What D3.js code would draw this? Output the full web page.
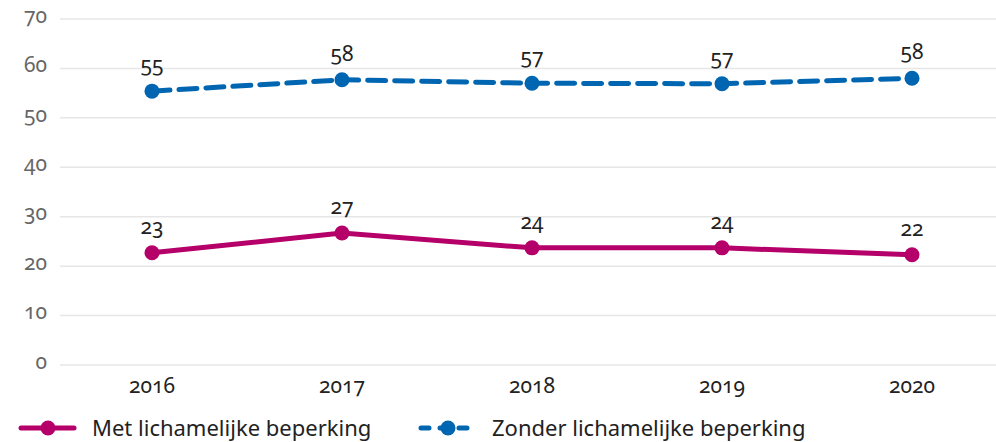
<!DOCTYPE html>
<html lang="nl">
<head>
<meta charset="UTF-8">
<script src="https://d3js.org/d3.v7.min.js"></script>
<style>
  body { margin: 0; background: #fff; }
  svg, svg text { font-family: "Noto Sans", "Open Sans", sans-serif; }
  .grid line { stroke: #e6e6e6; stroke-width: 1.5; }
  .yaxis text, .xaxis text, .lbl { font-variant-numeric: oldstyle-nums; font-feature-settings: "onum" 1; }
  .yaxis text { fill: #666; font-size: 21px; }
  .xaxis text { fill: #222; font-size: 21px; }
  .lbl { fill: #222; font-size: 21px; }
  .legend text { fill: #222; font-size: 22px; }
</style>
</head>
<body>
<div id="chart"></div>
<script>
// data
var years = ['2016', '2017', '2018', '2019', '2020'];
var metValues = [22.7, 26.7, 23.7, 23.7, 22.3];
var zonderValues = [55.4, 57.7, 57.0, 56.9, 58.0];
var metLabels = [23, 27, 24, 24, 22];
var zonderLabels = [55, 58, 57, 57, 58];
var yTicks = [0, 10, 20, 30, 40, 50, 60, 70];
var seriesNames = ['Met lichamelijke beperking', 'Zonder lichamelijke beperking'];

var width = 996, height = 442;
var magenta = '#b5006a', blue = '#0066b1';

var svg = d3.select('#chart').append('svg')
    .attr('width', width)
    .attr('height', height);

var x = d3.scaleBand().domain(years).range([57, 1007]);
var y = d3.scaleLinear().domain([0, 70]).range([365, 19]);

// gridlines
svg.append('g').attr('class', 'grid')
    .selectAll('line')
    .data(yTicks)
    .enter().append('line')
        .attr('x1', 60).attr('x2', 996)
        .attr('y1', function(d) { return y(d); })
        .attr('y2', function(d) { return y(d); });

// y axis labels
svg.append('g').attr('class', 'yaxis')
    .attr('transform', 'translate(47,0)')
    .call(d3.axisLeft(y).tickValues(yTicks).tickSize(0).tickPadding(0))
    .call(function(g) { g.select('.domain').remove(); })
    .selectAll('text').attr('dy', '0.15em');

// x axis labels
svg.append('g').attr('class', 'xaxis')
    .attr('transform', 'translate(0,376)')
    .call(d3.axisBottom(x).tickSize(0).tickPadding(0))
    .call(function(g) { g.select('.domain').remove(); })
    .selectAll('text').attr('dy', '0.8em');

var cx = function(i) { return x(years[i]) + x.bandwidth() / 2; };

function drawSeries(values, labels, color, dashed) {
    var line = d3.line()
        .x(function(d, i) { return cx(i); })
        .y(function(d) { return y(d); });
    svg.append('path')
        .datum(values)
        .attr('d', line)
        .attr('fill', 'none')
        .attr('stroke', color)
        .attr('stroke-width', 5)
        .attr('stroke-linecap', 'round')
        .attr('stroke-dasharray', dashed ? '18,9' : null);
    svg.append('g').selectAll('circle')
        .data(values)
        .enter().append('circle')
            .attr('cx', function(d, i) { return cx(i); })
            .attr('cy', function(d) { return y(d); })
            .attr('r', 7.5)
            .attr('fill', color);
    svg.append('g').selectAll('text')
        .data(values)
        .enter().append('text')
            .attr('class', 'lbl')
            .attr('text-anchor', 'middle')
            .attr('x', function(d, i) { return cx(i); })
            .attr('y', function(d) { return y(d) - 19; })
            .text(function(d, i) { return labels[i]; });
}

drawSeries(metValues, metLabels, magenta, false);
drawSeries(zonderValues, zonderLabels, blue, true);

// legend
var legendItems = [
    { name: seriesNames[0], color: magenta, dashed: false, x: 18 },
    { name: seriesNames[1], color: blue, dashed: true, x: 418 }
];
var legend = svg.selectAll('.legend')
    .data(legendItems)
    .enter().append('g')
        .attr('class', 'legend')
        .attr('transform', function(d) { return 'translate(' + d.x + ',428)'; });

legend.append('line')
    .attr('x1', 3).attr('x2', 56)
    .attr('y1', 0).attr('y2', 0)
    .attr('stroke', function(d) { return d.color; })
    .attr('stroke-width', 5)
    .attr('stroke-linecap', 'round')
    .attr('stroke-dasharray', function(d) { return d.dashed ? '8,11' : null; });
legend.append('circle')
    .attr('cx', 30).attr('cy', 0).attr('r', 7.5)
    .attr('fill', function(d) { return d.color; });
legend.append('text')
    .attr('x', 74).attr('dy', '0.35em')
    .text(function(d) { return d.name; });
</script>
</body>
</html>
